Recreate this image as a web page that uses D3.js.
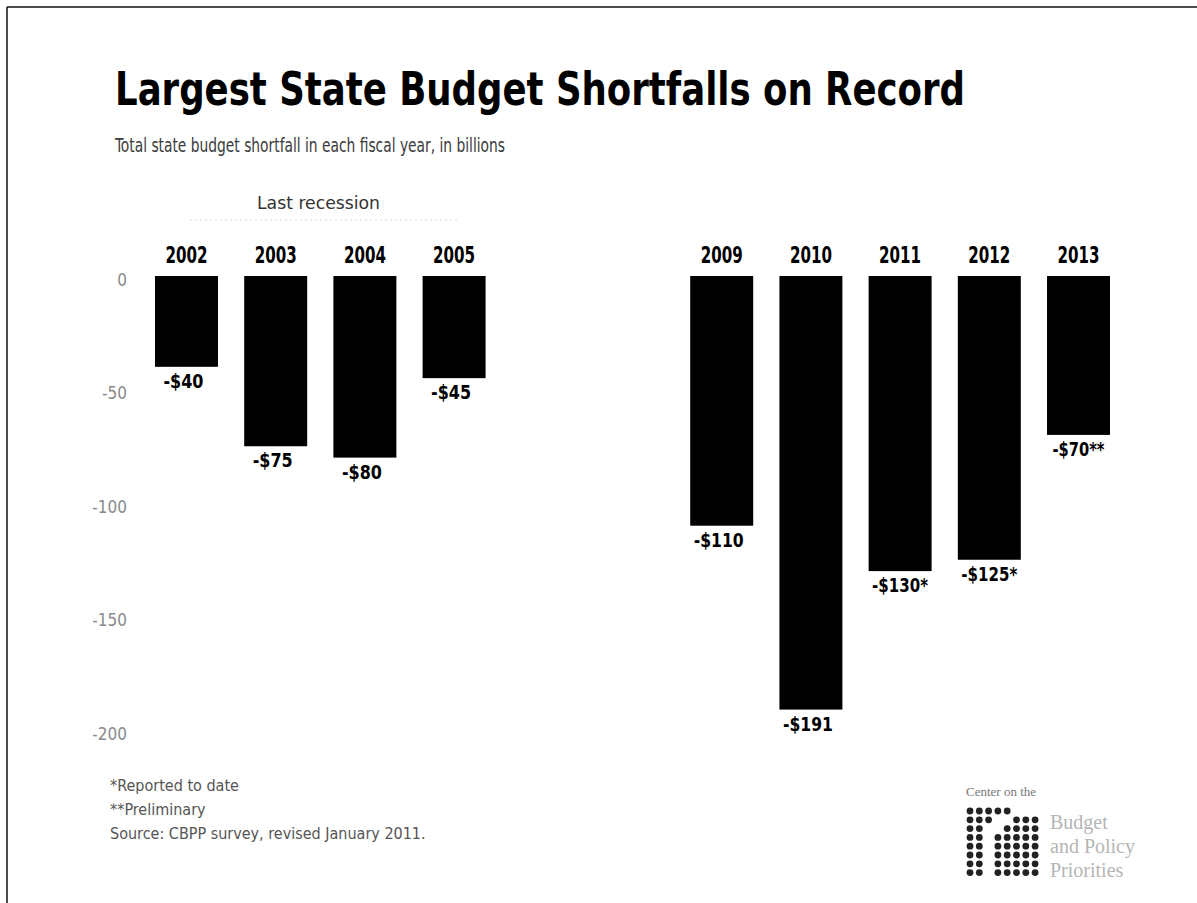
<!DOCTYPE html>
<html>
<head>
<meta charset="utf-8">
<script src="https://cdn.jsdelivr.net/npm/d3@7"></script>
<style>
  html, body { margin: 0; padding: 0; background: #fff; }
  svg { display: block; }
  .cond { font-family: "Liberation Sans Narrow", "DejaVu Sans Condensed", "Roboto", sans-serif; font-stretch: condensed; }
</style>
</head>
<body>
<svg id="chart" width="1197" height="903"></svg>
<script>
// Fiscal years with a reported state budget shortfall (billions of dollars)
const years = ["2002", "2003", "2004", "2005", "2009", "2010", "2011", "2012", "2013"];
const shortfalls = [-40, -75, -80, -45, -110, -191, -130, -125, -70];
const notes = ["", "", "", "", "", "", "*", "*", "**"];
const yTicks = [0, -50, -100, -150, -200];
const footnotes = ["*Reported to date", "**Preliminary", "Source: CBPP survey, revised January 2011."];

// Two empty slots separate the last recession from the current one
const slots = ["2002", "2003", "2004", "2005", "gap-a", "gap-b", "2009", "2010", "2011", "2012", "2013"];

const svg = d3.select("#chart");
const W = 1197, H = 903;

svg.append("rect").attr("width", W).attr("height", H).attr("fill", "#fff");

// frame lines on top and left edges
svg.append("line").attr("x1", 7).attr("y1", 7).attr("x2", W).attr("y2", 7)
  .attr("stroke", "#111").attr("stroke-width", 1.5);
svg.append("line").attr("x1", 7).attr("y1", 7).attr("x2", 7).attr("y2", H)
  .attr("stroke", "#111").attr("stroke-width", 1.5);

// title + subtitle
svg.append("text").attr("class", "cond")
  .attr("x", 115).attr("y", 105)
  .attr("font-size", 46).attr("font-weight", "bold").attr("fill", "#000")
  .attr("textLength", 850).attr("lengthAdjust", "spacingAndGlyphs")
  .text("Largest State Budget Shortfalls on Record");

svg.append("text").attr("class", "cond")
  .attr("x", 115).attr("y", 152)
  .attr("font-size", 19).attr("fill", "#3a3a3a")
  .attr("textLength", 390).attr("lengthAdjust", "spacingAndGlyphs")
  .text("Total state budget shortfall in each fiscal year, in billions");

// scales
const x = d3.scaleBand().domain(slots).range([155, 1110]).paddingInner(0.294).paddingOuter(0);
const y = d3.scaleLinear().domain([0, -200]).range([276, 730]);

// "Last recession" bracket label
svg.append("text").attr("class", "cond")
  .attr("x", 257).attr("y", 209)
  .attr("font-size", 18).attr("fill", "#333")
  .attr("textLength", 123).attr("lengthAdjust", "spacingAndGlyphs")
  .text("Last recession");
svg.append("line")
  .attr("x1", 190).attr("x2", 457).attr("y1", 220).attr("y2", 220)
  .attr("stroke", "#d8d8d8").attr("stroke-width", 1).attr("stroke-dasharray", "2,3");

// y axis (labels only)
const yAxis = d3.axisLeft(y).tickValues(yTicks).tickSize(0).tickPadding(0)
  .tickFormat(d => d === 0 ? "0" : "-" + Math.abs(d));
const gy = svg.append("g").attr("transform", "translate(127,4)").call(yAxis);
gy.select(".domain").remove();
gy.selectAll("text")
  .attr("class", "cond")
  .attr("font-size", 17).attr("fill", "#8a8a8a")
  .style("font-family", "'Liberation Sans Narrow', 'DejaVu Sans Condensed', sans-serif");

const data = years.map((yr, i) => ({ year: yr, value: shortfalls[i], note: notes[i] }));

// bars
svg.append("g").selectAll("rect").data(data).join("rect")
  .attr("x", d => x(d.year))
  .attr("width", x.bandwidth())
  .attr("y", y(0))
  .attr("height", d => y(d.value) - y(0))
  .attr("fill", "#000");

// year labels above bars
svg.append("g").selectAll("text").data(data).join("text")
  .attr("class", "cond")
  .attr("x", d => x(d.year) + x.bandwidth() / 2)
  .attr("y", 263)
  .attr("text-anchor", "middle")
  .attr("font-size", 23).attr("font-weight", "bold").attr("fill", "#000")
  .attr("textLength", 42).attr("lengthAdjust", "spacingAndGlyphs")
  .text(d => d.year);

// value labels below bars
const labelText = d => "-$" + Math.abs(d.value) + d.note;
svg.append("g").selectAll("text").data(data).join("text")
  .attr("class", "cond")
  .attr("x", d => x(d.year) + x.bandwidth() / 2 - (d.note ? 0 : 3))
  .attr("y", d => y(d.value) + 21)
  .attr("text-anchor", "middle")
  .attr("font-size", 20).attr("font-weight", "bold").attr("fill", "#000")
  .attr("textLength", d => (labelText(d).length - d.note.length) * 10 + d.note.length * 6)
  .attr("lengthAdjust", "spacingAndGlyphs")
  .text(labelText);

// footnotes
svg.append("g").selectAll("text").data(footnotes).join("text")
  .attr("class", "cond")
  .attr("x", 110)
  .attr("y", (d, i) => 791 + i * 24)
  .attr("font-size", 16).attr("fill", "#555")
  .text(d => d);

// organisation mark: dot grid with a diagonal opening, plus name
const logo = svg.append("g");
const dotRows = [
  [1,1,1,1,1,0,0,0],
  [1,1,1,0,0,1,1,1],
  [1,1,0,0,1,1,1,1],
  [1,1,0,1,1,1,1,1],
  [1,1,0,1,1,1,1,1],
  [1,1,0,1,1,1,1,1],
  [1,1,0,1,1,1,1,1],
  [1,1,0,1,1,1,1,1]
];
dotRows.forEach((row, r) => row.forEach((on, c) => {
  if (on) logo.append("circle")
    .attr("cx", 970 + c * 9.3).attr("cy", 811 + r * 8.8).attr("r", 3.4)
    .attr("fill", "#222");
}));
logo.append("text").attr("x", 966).attr("y", 796)
  .attr("font-family", "Liberation Serif, serif").attr("font-size", 13).attr("fill", "#777")
  .text("Center on the");
[["Budget", 829], ["and Policy", 853], ["Priorities", 877]].forEach(([t, yy]) => {
  logo.append("text").attr("x", 1050).attr("y", yy)
    .attr("font-family", "Liberation Serif, serif").attr("font-size", 20).attr("fill", "#b5b5b5")
    .text(t);
});
</script>
</body>
</html>
